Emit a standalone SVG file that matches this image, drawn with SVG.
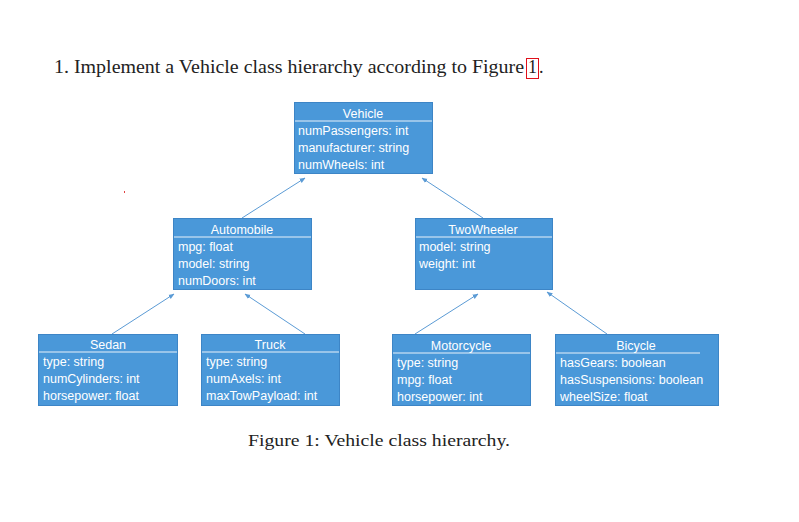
<svg xmlns="http://www.w3.org/2000/svg" width="799" height="522" viewBox="0 0 799 522">
<style>
.box{fill:#4A98D9;stroke:#3D85C6;stroke-width:1}
.sep{stroke:#E8F1FA;stroke-width:1}
.t{font-family:"Liberation Sans",Arial,sans-serif;font-size:12.5px;fill:#fff}
.h{text-anchor:middle}
.con{stroke:#5B9BD5;stroke-width:1;fill:none;marker-end:url(#ah)}
.doc{font-family:"Liberation Serif","Times New Roman",serif;fill:#222}
</style>
<defs>
<marker id="ah" viewBox="0 0 10 10" refX="9" refY="5" markerWidth="6" markerHeight="6" orient="auto" markerUnits="userSpaceOnUse">
<path d="M0,1 L10,5 L0,9 z" fill="#5B9BD5"/>
</marker>
</defs>
<rect width="799" height="522" fill="#fff"/>
<text class="doc" x="54" y="73" font-size="18" textLength="470" lengthAdjust="spacingAndGlyphs">1. Implement a Vehicle class hierarchy according to Figure</text>
<text class="doc" x="528" y="73" font-size="18">1</text>
<text class="doc" x="539" y="73" font-size="18">.</text>
<rect x="526.5" y="58.5" width="12" height="20" fill="none" stroke="#E0101A" stroke-width="1"/>
<rect x="124" y="191" width="1" height="2" fill="#E04040"/>

<g id="connectors">
<line class="con" x1="242" y1="218" x2="305" y2="178"/>
<line class="con" x1="483" y1="218" x2="422" y2="178"/>
<line class="con" x1="112" y1="334" x2="174" y2="294"/>
<line class="con" x1="305" y1="334" x2="245" y2="294"/>
<line class="con" x1="415" y1="334" x2="478" y2="294"/>
<line class="con" x1="607" y1="334" x2="547" y2="292"/>
</g>

<g id="Vehicle">
<rect class="box" x="294.5" y="102.5" width="138" height="71"/>
<line class="sep" x1="295" y1="121" x2="432" y2="121"/>
<text class="t h" x="363" y="118">Vehicle</text>
<text class="t" x="298" y="135">numPassengers: int</text>
<text class="t" x="298" y="152">manufacturer: string</text>
<text class="t" x="298" y="169">numWheels: int</text>
</g>

<g id="Automobile">
<rect class="box" x="173.5" y="218.5" width="138" height="71"/>
<line class="sep" x1="174" y1="237" x2="311" y2="237"/>
<text class="t h" x="242" y="234">Automobile</text>
<text class="t" x="178" y="251">mpg: float</text>
<text class="t" x="178" y="268">model: string</text>
<text class="t" x="178" y="285">numDoors: int</text>
</g>

<g id="TwoWheeler">
<rect class="box" x="415.5" y="218.5" width="137" height="71"/>
<line class="sep" x1="416" y1="237" x2="552" y2="237"/>
<text class="t h" x="483" y="234">TwoWheeler</text>
<text class="t" x="419" y="251">model: string</text>
<text class="t" x="419" y="268">weight: int</text>
</g>

<g id="Sedan">
<rect class="box" x="38.5" y="334.5" width="139" height="71"/>
<line class="sep" x1="39" y1="352" x2="177" y2="352"/>
<text class="t h" x="108" y="349">Sedan</text>
<text class="t" x="43" y="366">type: string</text>
<text class="t" x="43" y="383">numCylinders: int</text>
<text class="t" x="43" y="400">horsepower: float</text>
</g>

<g id="Truck">
<rect class="box" x="201.5" y="334.5" width="138" height="71"/>
<line class="sep" x1="202" y1="352" x2="339" y2="352"/>
<text class="t h" x="270" y="349">Truck</text>
<text class="t" x="206" y="366">type: string</text>
<text class="t" x="206" y="383">numAxels: int</text>
<text class="t" x="206" y="400">maxTowPayload: int</text>
</g>

<g id="Motorcycle">
<rect class="box" x="392.5" y="334.5" width="138" height="71"/>
<line class="sep" x1="393" y1="353" x2="530" y2="353"/>
<text class="t h" x="461" y="350">Motorcycle</text>
<text class="t" x="397" y="367">type: string</text>
<text class="t" x="397" y="384">mpg: float</text>
<text class="t" x="397" y="401">horsepower: int</text>
</g>

<g id="Bicycle">
<rect class="box" x="555.5" y="334.5" width="163" height="71"/>
<line class="sep" x1="556" y1="353" x2="700" y2="353"/>
<text class="t h" x="636" y="350">Bicycle</text>
<text class="t" x="560" y="367">hasGears: boolean</text>
<text class="t" x="560" y="384">hasSuspensions: boolean</text>
<text class="t" x="560" y="401">wheelSize: float</text>
</g>

<text class="doc" x="248" y="446" font-size="16" textLength="262" lengthAdjust="spacingAndGlyphs">Figure 1: Vehicle class hierarchy.</text>
</svg>
